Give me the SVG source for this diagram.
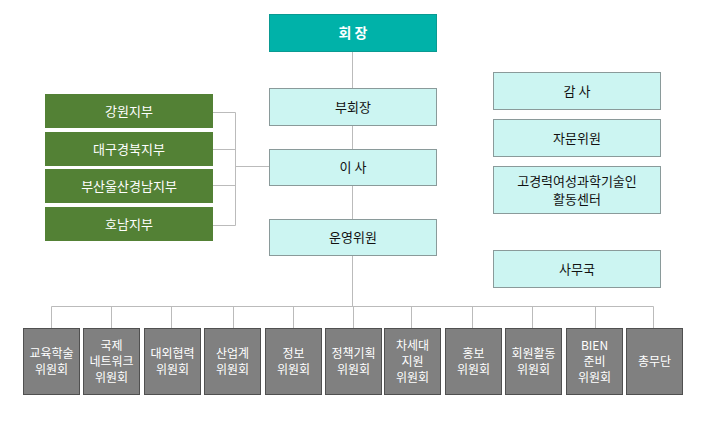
<svg xmlns="http://www.w3.org/2000/svg" width="705" height="436" viewBox="0 0 705 436">
<style>
text{font-family:"Noto Sans CJK KR","Noto Sans",sans-serif;text-anchor:middle;}
.top{fill:#00B2A9;stroke:#0a9a92;stroke-width:1}
.lt{fill:#CCF5F2;stroke:#8a9a9a;stroke-width:1}
.gr{fill:#538135;stroke:none}
.gy{fill:#808080;stroke:#505050;stroke-width:1}
.tw{fill:#fff;font-size:13px}
.tb{fill:#111;font-size:13px}
.ts{fill:#fff;font-size:12px}
.ln{fill:none;stroke:#bbbbbb;stroke-width:1}
</style>
<g id="connectors">
<line class="ln" x1="352.5" y1="52" x2="352.5" y2="307"/>
<polyline class="ln" points="213,112.5 235.5,112.5 235.5,225.5 213,225.5"/>
<line class="ln" x1="213" y1="149.5" x2="235.5" y2="149.5"/>
<line class="ln" x1="213" y1="185.5" x2="235.5" y2="185.5"/>
<line class="ln" x1="235.5" y1="166.5" x2="269" y2="166.5"/>
<line class="ln" x1="51.5" y1="306.5" x2="653.5" y2="306.5"/>
<line class="ln" x1="51.5" y1="306.5" x2="51.5" y2="328"/>
<line class="ln" x1="111.5" y1="306.5" x2="111.5" y2="328"/>
<line class="ln" x1="171.5" y1="306.5" x2="171.5" y2="328"/>
<line class="ln" x1="233.5" y1="306.5" x2="233.5" y2="328"/>
<line class="ln" x1="293.5" y1="306.5" x2="293.5" y2="328"/>
<line class="ln" x1="353.5" y1="306.5" x2="353.5" y2="328"/>
<line class="ln" x1="411.5" y1="306.5" x2="411.5" y2="328"/>
<line class="ln" x1="472.5" y1="306.5" x2="472.5" y2="328"/>
<line class="ln" x1="532.5" y1="306.5" x2="532.5" y2="328"/>
<line class="ln" x1="595.5" y1="306.5" x2="595.5" y2="328"/>
<line class="ln" x1="653.5" y1="306.5" x2="653.5" y2="328"/>
</g>
<g id="n-chair"><rect class="top" x="269.5" y="14.5" width="167" height="37"/><text class="tw" x="353" y="38" style="font-size:14px;font-weight:bold">회 장</text></g>
<g id="n-vice"><rect class="lt" x="269.5" y="88.5" width="167" height="37"/><text class="tb" x="353" y="112">부회장</text></g>
<g id="n-director"><rect class="lt" x="269.5" y="149.5" width="167" height="36"/><text class="tb" x="353" y="172">이 사</text></g>
<g id="n-steering"><rect class="lt" x="269.5" y="219.5" width="167" height="36"/><text class="tb" x="353" y="242">운영위원</text></g>
<g id="n-audit"><rect class="lt" x="493.5" y="72.5" width="167" height="37"/><text class="tb" x="577" y="96">감 사</text></g>
<g id="n-advisor"><rect class="lt" x="493.5" y="119.5" width="167" height="37"/><text class="tb" x="577" y="143">자문위원</text></g>
<g id="n-center"><rect class="lt" x="493.5" y="166.5" width="167" height="47"/><text class="tb" x="577" y="186">고경력여성과학기술인</text><text class="tb" x="577" y="204">활동센터</text></g>
<g id="n-office"><rect class="lt" x="493.5" y="250.5" width="167" height="37"/><text class="tb" x="577" y="274">사무국</text></g>
<g id="n-b1"><rect class="gr" x="45" y="94" width="168" height="34"/><text class="tw" x="129" y="116">강원지부</text></g>
<g id="n-b2"><rect class="gr" x="45" y="132" width="168" height="34"/><text class="tw" x="129" y="154">대구경북지부</text></g>
<g id="n-b3"><rect class="gr" x="45" y="169" width="168" height="34"/><text class="tw" x="129" y="191">부산울산경남지부</text></g>
<g id="n-b4"><rect class="gr" x="45" y="207" width="168" height="34"/><text class="tw" x="129" y="229">호남지부</text></g>
<g id="n-c1"><rect class="gy" x="23.5" y="328.5" width="56" height="66"/><text class="ts" x="51.5" y="358">교육학술</text><text class="ts" x="51.5" y="374">위원회</text></g>
<g id="n-c2"><rect class="gy" x="83.5" y="328.5" width="56" height="66"/><text class="ts" x="111.5" y="350">국제</text><text class="ts" x="111.5" y="366">네트워크</text><text class="ts" x="111.5" y="382">위원회</text></g>
<g id="n-c3"><rect class="gy" x="144.5" y="328.5" width="56" height="66"/><text class="ts" x="172.5" y="358">대외협력</text><text class="ts" x="172.5" y="374">위원회</text></g>
<g id="n-c4"><rect class="gy" x="204.5" y="328.5" width="56" height="66"/><text class="ts" x="232.5" y="358">산업계</text><text class="ts" x="232.5" y="374">위원회</text></g>
<g id="n-c5"><rect class="gy" x="265.5" y="328.5" width="56" height="66"/><text class="ts" x="293.5" y="358">정보</text><text class="ts" x="293.5" y="374">위원회</text></g>
<g id="n-c6"><rect class="gy" x="325.5" y="328.5" width="56" height="66"/><text class="ts" x="353.5" y="358">정책기획</text><text class="ts" x="353.5" y="374">위원회</text></g>
<g id="n-c7"><rect class="gy" x="384.5" y="328.5" width="56" height="66"/><text class="ts" x="412.5" y="350">차세대</text><text class="ts" x="412.5" y="366">지원</text><text class="ts" x="412.5" y="382">위원회</text></g>
<g id="n-c8"><rect class="gy" x="445.5" y="328.5" width="56" height="66"/><text class="ts" x="473.5" y="358">홍보</text><text class="ts" x="473.5" y="374">위원회</text></g>
<g id="n-c9"><rect class="gy" x="505.5" y="328.5" width="56" height="66"/><text class="ts" x="533.5" y="358">회원활동</text><text class="ts" x="533.5" y="374">위원회</text></g>
<g id="n-c10"><rect class="gy" x="566.5" y="328.5" width="56" height="66"/><text class="ts" x="594.5" y="350">BIEN</text><text class="ts" x="594.5" y="366">준비</text><text class="ts" x="594.5" y="382">위원회</text></g>
<g id="n-c11"><rect class="gy" x="626.5" y="328.5" width="56" height="66"/><text class="ts" x="654.5" y="366">총무단</text></g>
</svg>
